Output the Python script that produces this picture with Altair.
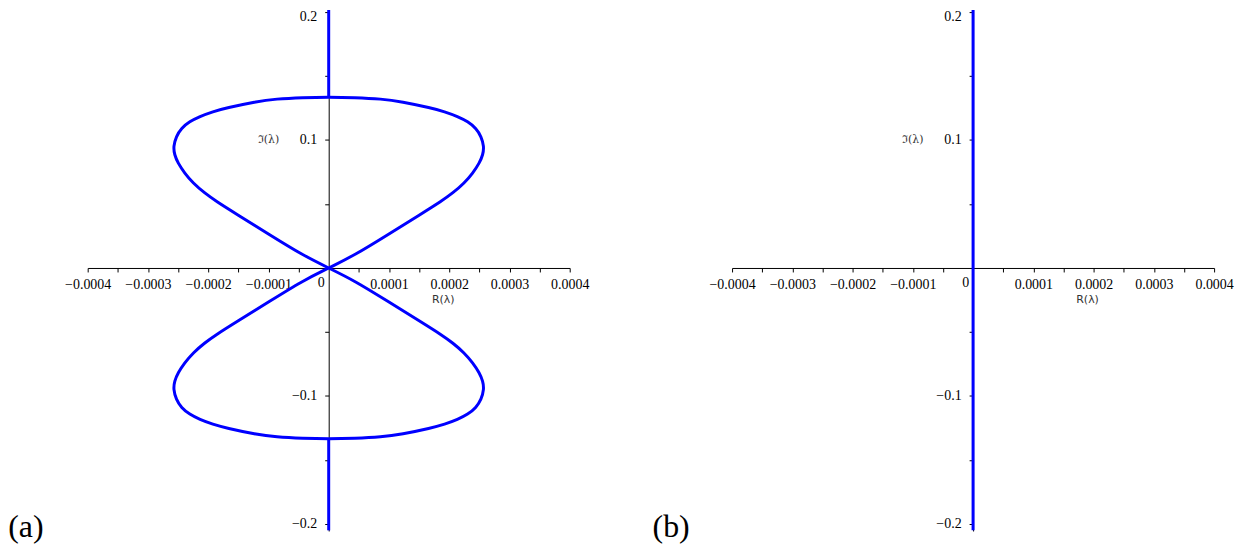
import altair as alt
import pandas as pd

# ---- data ----
# upper-right quarter of the figure-eight (panel a), from the origin to the top of the loop
quarter_re = [0.0, 0.435e-4, 0.987e-4, 1.537e-4, 1.868e-4, 2.061e-4, 2.253e-4, 2.392e-4,
              2.501e-4, 2.56e-4, 2.578e-4, 2.532e-4, 2.446e-4, 2.309e-4, 2.144e-4,
              1.922e-4, 1.702e-4, 1.207e-4, 0.876e-4, 0.43e-4, 0.0]
quarter_im = [0.0, 0.0101, 0.0262, 0.0423, 0.0521, 0.0586, 0.0664, 0.0742,
              0.0819, 0.0885, 0.0949, 0.1027, 0.1092, 0.1144, 0.1183,
              0.1222, 0.1250, 0.1300, 0.1321, 0.1332, 0.1336]

# vertical blue segments on the imaginary axis
a_seg_lo = [0.1335, -0.205]
a_seg_hi = [0.205, -0.1335]
b_seg_lo = [-0.205]
b_seg_hi = [0.205]

x_tick_values = [-0.0004, -0.00035, -0.0003, -0.00025, -0.0002, -0.00015, -0.0001, -0.00005,
                 0.00005, 0.0001, 0.00015, 0.0002, 0.00025, 0.0003, 0.00035, 0.0004]
x_label_values = [-0.0004, -0.0003, -0.0002, -0.0001, 0.0001, 0.0002, 0.0003, 0.0004]
y_tick_values = [-0.2, -0.15, -0.1, -0.05, 0.05, 0.1, 0.15, 0.2]
y_label_values = [-0.2, -0.1, 0.1, 0.2]

panel_labels = ["(a)", "(b)"]
x_title = "R(λ)"
y_title = "ℑ(λ)"

# ---- layout / style ----
W, H = 484, 523
XMIN, XMAX = -0.0004, 0.0004
YMIN, YMAX = -0.2055, 0.2015
BLUE = "#0000ff"
x_axis_offset = -H * (0 - YMIN) / (YMAX - YMIN)
y_axis_offset = -W * (0 - XMIN) / (XMAX - XMIN)

xs = alt.Scale(domain=[XMIN, XMAX], nice=False, zero=False)
ys = alt.Scale(domain=[YMIN, YMAX], nice=False, zero=False)


def lbl_expr(vals):
    arr = "[" + ",".join(repr(v) for v in vals) + "]"
    return f"indexof({arr}, datum.value) >= 0 ? format(datum.value, '') : ''"


x_axis = alt.Axis(values=x_tick_values, labelExpr=lbl_expr(x_label_values), offset=x_axis_offset,
                  title=None, grid=False, tickSize=4, labelFlush=False, labelOverlap=False,
                  labelFont="Liberation Serif", labelFontSize=14, labelPadding=6,
                  labelColor="black", domainColor="black", tickColor="black",
                  domainWidth=1, tickWidth=1)
y_axis = alt.Axis(values=y_tick_values, labelExpr=lbl_expr(y_label_values), offset=y_axis_offset,
                  title=None, grid=False, tickSize=4, labelFlush=False, labelOverlap=False,
                  labelFont="Liberation Serif", labelFontSize=14, labelPadding=8,
                  labelColor="black", domainColor="black", tickColor="black",
                  domainWidth=1, tickWidth=1,
                  labelBaseline=alt.condition("datum.value == 0.2", alt.value("top"), alt.value("middle")),
                  labelOffset=alt.condition("datum.value == 0.2", alt.value(-2), alt.value(0)))


def X(field):
    return alt.X(field, scale=xs, axis=x_axis, title=None)


def Y(field):
    return alt.Y(field, scale=ys, axis=y_axis, title=None)


def text_layers(panel_label):
    t = pd.DataFrame({
        "x": [0.0, 0.00019, -0.0001, -0.000532],
        "y": [0.0, -0.025, 0.1, -0.2024],
        "t": ["0", x_title, y_title, panel_label],
        "k": ["zero", "xt", "yt", "panel"],
    })
    base = alt.Chart(t).encode(x=X("x:Q"), y=Y("y:Q"), text="t:N")
    zero = base.transform_filter("datum.k == 'zero'").mark_text(
        align="right", baseline="middle", dx=-4, dy=15,
        font="Liberation Serif", fontSize=14, color="black")
    xt = base.transform_filter("datum.k == 'xt'").mark_text(
        align="center", baseline="middle", font="DejaVu Sans", fontSize=11, color="#333333")
    yt = base.transform_filter("datum.k == 'yt'").mark_text(
        align="center", baseline="middle", font="DejaVu Serif", fontSize=11, color="#333333")
    pl = base.transform_filter("datum.k == 'panel'").mark_text(
        align="left", baseline="middle", font="Liberation Serif", fontSize=32, color="black")
    return [zero, xt, yt, pl]


def rule_layer(lo, hi):
    df = pd.DataFrame({"x": [0.0] * len(lo), "lo": lo, "hi": hi})
    return alt.Chart(df).mark_rule(color=BLUE, strokeWidth=3, clip=True).encode(
        x=X("x:Q"), y=Y("lo:Q"), y2="hi:Q")


# figure-eight path built from the quarter by the curve's symmetry
pts = list(zip(quarter_re, quarter_im))
path = pts + [(-x, y) for x, y in reversed(pts[:-1])]
path += [(x, -y) for x, y in pts[1:]] + [(-x, -y) for x, y in reversed(pts[:-1])]
curve_df = pd.DataFrame({"re": [p[0] for p in path], "im": [p[1] for p in path],
                         "i": list(range(len(path)))})
curve = alt.Chart(curve_df).mark_line(color=BLUE, strokeWidth=3, interpolate="basis",
                                      clip=True).encode(
    x=X("re:Q"), y=Y("im:Q"), order="i:Q")

panel_a = alt.layer(rule_layer(a_seg_lo, a_seg_hi), curve,
                    *text_layers(panel_labels[0])).properties(width=W, height=H)
panel_b = alt.layer(rule_layer(b_seg_lo, b_seg_hi),
                    *text_layers(panel_labels[1])).properties(width=W, height=H)

chart = alt.hconcat(panel_a, panel_b, spacing=163, bounds="flush").properties(
    padding={"left": 0, "top": 0, "right": 5, "bottom": 5}
).configure_view(stroke=None)

chart.save("out.html", embed_options={"renderer": "svg", "actions": False})
